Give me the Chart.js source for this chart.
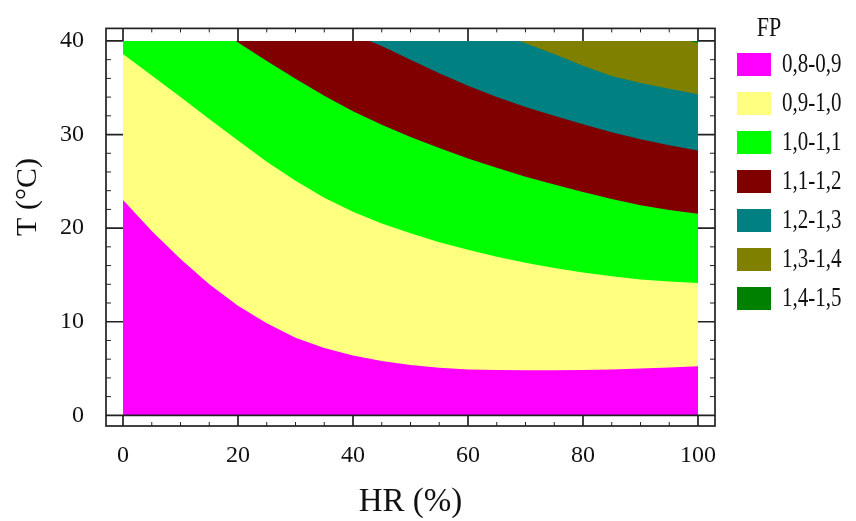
<!DOCTYPE html>
<html>
<head>
<meta charset="utf-8">
<script src="https://cdn.jsdelivr.net/npm/chart.js@4.4.0/dist/chart.umd.min.js"></script>
<style>
  html, body { margin: 0; padding: 0; background: #fff; }
  #wrap { width: 856px; height: 521px; }
</style>
</head>
<body>
<div id="wrap"><canvas id="fpChart" width="856" height="521"></canvas></div>
<script>
// FP classes, from the lowest band to the highest
const fpLabels = ['0,8-0,9', '0,9-1,0', '1,0-1,1', '1,1-1,2', '1,2-1,3', '1,3-1,4', '1,4-1,5'];
const fpColors = ['#ff00ff', '#ffff80', '#00ff00', '#800000', '#008080', '#808000', '#008000'];

// upper edge of each band: T (°C) read at HR (%)
const hr1 = [0, 5, 10, 15, 20, 25, 30, 35, 40, 45, 50, 55, 60, 65, 70, 75, 80, 85, 90, 95, 100];
const t1 = [23.0, 19.7, 16.7, 14.0, 11.7, 9.85, 8.3, 7.2, 6.4, 5.8, 5.38, 5.08, 4.9, 4.85, 4.82, 4.82, 4.83, 4.9, 5.0, 5.12, 5.25];

const hr2 = [0, 5, 10, 15, 20, 25, 30, 35, 40, 45, 50, 55, 60, 65, 70, 75, 80, 85, 90, 95, 100];
const t2 = [38.6, 36.3, 34.0, 31.65, 29.35, 27.1, 25.05, 23.25, 21.75, 20.5, 19.45, 18.5, 17.7, 16.95, 16.3, 15.75, 15.25, 14.85, 14.5, 14.3, 14.15];

const hr3 = [0, 19.6, 25, 30, 35, 40, 45, 50, 55, 60, 65, 70, 75, 80, 85, 90, 95, 100];
const t3 = [40, 40, 37.85, 35.95, 34.15, 32.5, 31.05, 29.75, 28.55, 27.45, 26.45, 25.5, 24.65, 23.85, 23.1, 22.45, 21.95, 21.55];

const hr4 = [0, 42.9, 45, 50, 55, 60, 65, 70, 75, 80, 85, 90, 95, 100];
const t4 = [40, 40, 39.45, 38.0, 36.55, 35.2, 34.0, 32.95, 32.0, 31.1, 30.25, 29.5, 28.85, 28.3];

const hr5 = [0, 69, 70, 75, 80, 85, 90, 95, 100];
const t5 = [40, 40, 39.75, 38.6, 37.35, 36.25, 35.5, 34.9, 34.3];

const hr6 = [0, 98.6, 100];
const t6 = [40, 40, 39.75];

const hr7 = [0, 100];
const t7 = [40, 40];

const xTicks = [0, 20, 40, 60, 80, 100];
const yTicks = [0, 10, 20, 30, 40];

const bands = [[hr1, t1], [hr2, t2], [hr3, t3], [hr4, t4], [hr5, t5], [hr6, t6], [hr7, t7]];

// each band is filled down to T = 0; lower bands are drawn on top
const datasets = bands.map(([hr, t], i) => ({
    label: fpLabels[i],
    data: hr.map((x, k) => ({ x: x, y: t[k] })),
    backgroundColor: fpColors[i],
    borderColor: 'transparent',
    borderWidth: 0,
    pointRadius: 0,
    fill: 'origin',
    tension: 0
}));

const serif = '"Liberation Serif", "Times New Roman", serif';

// frame with ticks on all four sides
const framePlugin = {
    id: 'frame',
    afterDatasetsDraw(chart) {
        const { ctx, chartArea: a, scales: { x, y } } = chart;
        const x0 = x.getPixelForValue(0), x1 = x.getPixelForValue(100);
        const y0 = y.getPixelForValue(0), y1 = y.getPixelForValue(40);
        ctx.save();
        ctx.strokeStyle = '#222';
        ctx.lineWidth = 1.7;
        ctx.strokeRect(a.left, a.top, a.right - a.left, a.bottom - a.top);
        ctx.beginPath();
        xTicks.forEach(v => {
            const p = x.getPixelForValue(v);
            ctx.moveTo(p, a.bottom); ctx.lineTo(p, y0);
            ctx.moveTo(p, a.top); ctx.lineTo(p, y1);
        });
        yTicks.forEach(v => {
            const p = y.getPixelForValue(v);
            ctx.moveTo(a.left, p); ctx.lineTo(x0, p);
            ctx.moveTo(a.right, p); ctx.lineTo(x1, p);
        });
        ctx.moveTo(x0, y0); ctx.lineTo(x1, y0);
        ctx.stroke();
        // minor ticks
        ctx.lineWidth = 1;
        ctx.beginPath();
        for (let v = 5; v < 100; v += 5) {
            if (v % 20 === 0) continue;
            const p = x.getPixelForValue(v);
            ctx.moveTo(p, a.bottom); ctx.lineTo(p, a.bottom - 4);
            ctx.moveTo(p, a.top); ctx.lineTo(p, a.top + 4);
        }
        for (let v = 2; v < 40; v += 2) {
            if (v % 10 === 0) continue;
            const p = y.getPixelForValue(v);
            ctx.moveTo(a.left, p); ctx.lineTo(a.left + 5, p);
            ctx.moveTo(a.right, p); ctx.lineTo(a.right - 5, p);
        }
        ctx.stroke();
        ctx.restore();
    }
};

// text stretched a little in height, like the original figure
function tallText(ctx, text, x, y, sy) {
    ctx.save();
    ctx.translate(x, y);
    ctx.scale(1, sy);
    ctx.fillText(text, 0, 0);
    ctx.restore();
}

// axis titles and the FP legend
const textPlugin = {
    id: 'texts',
    afterDraw(chart) {
        const { ctx, chartArea: a } = chart;
        ctx.save();
        ctx.fillStyle = '#111';
        ctx.textAlign = 'center';
        ctx.textBaseline = 'middle';
        ctx.font = '33px ' + serif;
        ctx.fillText('HR (%)', (a.left + a.right) / 2, 502);
        ctx.save();
        ctx.translate(28, 197);
        ctx.rotate(-Math.PI / 2);
        ctx.font = '30px ' + serif;
        ctx.fillText('T (°C)', 0, 0);
        ctx.restore();

        ctx.font = '22px ' + serif;
        tallText(ctx, 'FP', 769, 29, 1.2);
        ctx.font = '21px ' + serif;
        ctx.textAlign = 'left';
        chart.data.datasets.forEach((ds, i) => {
            const top = 53 + i * 39;
            ctx.fillStyle = ds.backgroundColor;
            ctx.fillRect(737, top, 34, 23);
            ctx.fillStyle = '#111';
            tallText(ctx, ds.label, 782, top + 12, 1.25);
        });
        ctx.restore();
    }
};

new Chart(document.getElementById('fpChart'), {
    type: 'line',
    data: { datasets: datasets },
    options: {
        responsive: false,
        animation: false,
        events: [],
        devicePixelRatio: 1,
        layout: { padding: { top: 15, right: 141, left: 0, bottom: 0 } },
        plugins: {
            legend: { display: false },
            tooltip: { enabled: false }
        },
        scales: {
            x: {
                type: 'linear',
                min: -2.96,
                max: 102.96,
                afterBuildTicks: s => { s.ticks = xTicks.map(v => ({ value: v })); },
                afterFit: s => { s.height = 95; },
                grid: { display: false },
                border: { display: false },
                ticks: { padding: 7, color: '#111', font: { family: serif, size: 24 } }
            },
            y: {
                type: 'linear',
                min: -1.14,
                max: 41.34,
                afterBuildTicks: s => { s.ticks = yTicks.map(v => ({ value: v })); },
                afterFit: s => { s.width = 106; },
                grid: { display: false },
                border: { display: false },
                ticks: { padding: 14, color: '#111', font: { family: serif, size: 24 } }
            }
        }
    },
    plugins: [framePlugin, textPlugin]
});
</script>
</body>
</html>
